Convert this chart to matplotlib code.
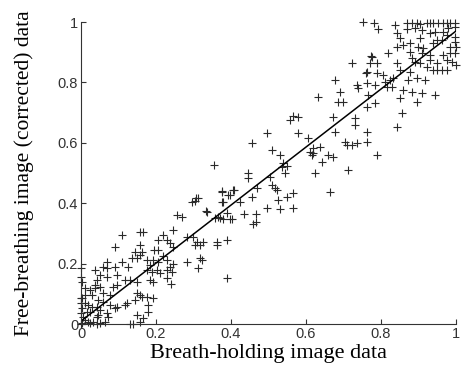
import matplotlib.pyplot as plt
import numpy as np

# breath-holding (x) vs free-breathing corrected (y)
bh_data = [
    0.752, 0.781, 0.792, 0.837, 0.869, 0.883, 0.896, 0.904, 0.923, 0.931, 0.939, 0.952, 0.965, 0.976, 0.984, 0.997,
    0.869, 0.891, 0.909, 0.931, 0.944, 0.965, 0.979, 0.997, 0.843, 0.851, 0.904, 0.949, 0.963, 0.976, 0.997, 0.997,
    0.843, 0.859, 0.877, 0.899, 0.912, 0.939, 0.984, 1.000, 0.819, 0.877, 0.909, 0.931, 0.965, 0.984, 0.997,
    0.883, 0.931, 0.949, 0.976, 0.989, 1.000, 0.891, 0.904, 0.923, 0.939, 0.949, 0.963, 0.976,
    0.776, 0.723, 0.771, 0.789, 0.843, 0.763, 0.789, 0.805, 0.851, 0.877,
    0.677, 0.736, 0.739, 0.763, 0.784, 0.811, 0.824, 0.832, 0.816, 0.829, 0.859, 0.872, 0.896, 0.917,
    0.883, 0.909, 0.944, 0.632, 0.691, 0.685, 0.699, 0.765, 0.763, 0.784, 0.851, 0.896, 0.856, 0.843,
    0.557, 0.565, 0.579, 0.672, 0.677, 0.731, 0.731, 0.763, 0.496, 0.579, 0.605,
    0.456, 0.509, 0.531, 0.611, 0.616, 0.637, 0.643, 0.659, 0.672, 0.704, 0.709, 0.723, 0.736, 0.763, 0.789,
    0.539, 0.536, 0.549, 0.544, 0.624, 0.712, 0.445, 0.445, 0.504, 0.509, 0.517,
    0.355, 0.376, 0.392, 0.408, 0.469, 0.307, 0.456, 0.405, 0.523, 0.424, 0.565, 0.549, 0.525,
    0.565, 0.531, 0.496, 0.403, 0.435, 0.467, 0.467, 0.459, 0.664, 0.619, 0.619, 0.773, 0.760,
    0.312, 0.304, 0.376, 0.397, 0.376, 0.336, 0.365, 0.379, 0.357, 0.397, 0.256, 0.269,
    0.245, 0.219, 0.205, 0.229, 0.237, 0.245, 0.283, 0.299, 0.309, 0.304, 0.317, 0.325, 0.323, 0.283,
    0.363, 0.363, 0.389, 0.205, 0.205, 0.229, 0.229, 0.237, 0.243, 0.211,
    0.157, 0.163, 0.157, 0.144, 0.149, 0.136, 0.176, 0.192, 0.176, 0.189, 0.203,
    0.109, 0.157, 0.165, 0.091, 0.109, 0.125, 0.096, 0.117, 0.131, 0.149, 0.184, 0.192,
    0.069, 0.059, 0.069, 0.091, 0.051, 0.069, 0.037, 0.085, 0.096,
    0.123, 0.117, 0.157, 0.149, 0.163, 0.144, 0.176, 0.192, 0.179, 0.179, 0.149, 0.157, 0.165, 0.131, 0.139,
    0.091, 0.096, 0.059, 0.077, 0.045, 0.059, 0.077, 0.043, 0.051, 0.069, 0.072, 0.043,
    0.024, 0.019, 0.029, 0.024, 0.037, 0.051, 0.043, 0.037, 0.011, 0.011, 0.003,
    0.000, 0.000, 0.003, 0.000, 0.000, 0.003, 0.000, 0.005, 0.011, 0.019, 0.024, 0.032, 0.051, 0.003, 0.000,
    0.016, 0.011, 0.029, 0.045, 0.064, 0.043,
    0.389, 0.240, 0.229, 0.312, 0.317, 0.245, 0.195, 0.219, 0.184, 0.389, 0.371, 0.333, 0.296, 0.379,
]
fb_data = [
    1.000, 0.997, 0.977, 0.990, 0.997, 0.997, 0.997, 0.993, 0.997, 0.997, 0.997, 0.997, 0.997, 0.997, 0.997, 0.997,
    0.977, 0.980, 0.974, 0.964, 0.967, 0.967, 0.980, 0.983, 0.964, 0.947, 0.947, 0.940, 0.940, 0.957, 0.950, 0.934,
    0.917, 0.924, 0.930, 0.917, 0.914, 0.930, 0.917, 0.917, 0.897, 0.901, 0.897, 0.891, 0.891, 0.897, 0.897,
    0.881, 0.874, 0.864, 0.874, 0.868, 0.858, 0.868, 0.864, 0.851, 0.841, 0.841, 0.841, 0.841,
    0.884, 0.864, 0.864, 0.864, 0.864, 0.834, 0.831, 0.825, 0.841, 0.834,
    0.808, 0.791, 0.781, 0.798, 0.791, 0.801, 0.808, 0.815, 0.785, 0.785, 0.775, 0.808, 0.815, 0.808,
    0.768, 0.765, 0.758, 0.752, 0.768, 0.735, 0.735, 0.758, 0.719, 0.732, 0.748, 0.735, 0.699, 0.652,
    0.675, 0.689, 0.685, 0.685, 0.636, 0.682, 0.659, 0.636, 0.632, 0.632, 0.616,
    0.599, 0.576, 0.560, 0.570, 0.560, 0.586, 0.536, 0.560, 0.553, 0.603, 0.593, 0.593, 0.599, 0.603, 0.560,
    0.533, 0.520, 0.523, 0.500, 0.500, 0.510, 0.500, 0.483, 0.487, 0.460, 0.450,
    0.526, 0.440, 0.427, 0.444, 0.450, 0.417, 0.421, 0.444, 0.444, 0.404, 0.434, 0.421, 0.411,
    0.384, 0.381, 0.384, 0.348, 0.364, 0.364, 0.338, 0.331, 0.437, 0.583, 0.566, 0.887, 0.831,
    0.417, 0.407, 0.437, 0.427, 0.404, 0.371, 0.354, 0.348, 0.351, 0.348, 0.361, 0.354,
    0.311, 0.295, 0.278, 0.278, 0.268, 0.255, 0.288, 0.288, 0.272, 0.262, 0.262, 0.272, 0.212, 0.205,
    0.262, 0.272, 0.278, 0.245, 0.205, 0.212, 0.179, 0.189, 0.172, 0.169,
    0.262, 0.238, 0.228, 0.238, 0.219, 0.219, 0.212, 0.212, 0.179, 0.172, 0.179,
    0.295, 0.305, 0.305, 0.255, 0.205, 0.189, 0.162, 0.146, 0.146, 0.139, 0.146, 0.139,
    0.205, 0.189, 0.185, 0.189, 0.162, 0.156, 0.179, 0.123, 0.129,
    0.070, 0.063, 0.096, 0.103, 0.089, 0.079, 0.089, 0.086, 0.063, 0.040, 0.030, 0.007, 0.020, 0.000, 0.000,
    0.053, 0.056, 0.103, 0.096, 0.079, 0.073, 0.063, 0.056, 0.046, 0.036, 0.023, 0.023,
    0.040, 0.063, 0.096, 0.113, 0.119, 0.123, 0.146, 0.129, 0.119, 0.096, 0.086,
    0.185, 0.156, 0.139, 0.086, 0.070, 0.053, 0.036, 0.023, 0.013, 0.007, 0.003, 0.007, 0.003, 0.003, 0.000,
    0.040, 0.070, 0.056, 0.030, 0.007, 0.000,
    0.152, 0.132, 0.152, 0.185, 0.219, 0.199, 0.245, 0.225, 0.195, 0.368, 0.351, 0.374, 0.404, 0.404,
]

# regression line end points
fit_x = [0.0, 1.0]
fit_y = [0.01, 0.97]

ticks = [0, 0.2, 0.4, 0.6, 0.8, 1]
tick_labels = ["0", "0.2", "0.4", "0.6", "0.8", "1"]


def main():
    fig = plt.figure(figsize=(4.71, 3.73), dpi=100)
    ax = fig.add_axes([0.172, 0.131, 0.796, 0.810])

    ax.plot(bh_data, fb_data, linestyle="none", marker="+", markersize=6,
            markeredgewidth=0.8, color="#2a2a2a", clip_on=False)
    ax.plot(fit_x, fit_y, color="black", linewidth=1.1)

    ax.set_xlim(0, 1)
    ax.set_ylim(0, 1)
    ax.set_xticks(ticks)
    ax.set_yticks(ticks)
    ax.set_xticklabels(tick_labels, family="Liberation Sans", fontsize=10.5)
    ax.set_yticklabels(tick_labels, family="Liberation Sans", fontsize=10.5)
    ax.tick_params(direction="in", length=3.5, width=0.8, colors="#333333", pad=2)

    # only left and bottom axes lines
    ax.spines["top"].set_visible(False)
    ax.spines["right"].set_visible(False)
    for side in ["left", "bottom"]:
        ax.spines[side].set_linewidth(0.8)
        ax.spines[side].set_color("#333333")

    ax.set_xlabel("Breath-holding image data", family="Liberation Serif", fontsize=16, labelpad=2)
    ax.set_ylabel("Free-breathing image (corrected) data", family="Liberation Serif", fontsize=15.5, labelpad=17)

    fig.savefig("out.png", dpi=100)


if __name__ == "__main__":
    main()
